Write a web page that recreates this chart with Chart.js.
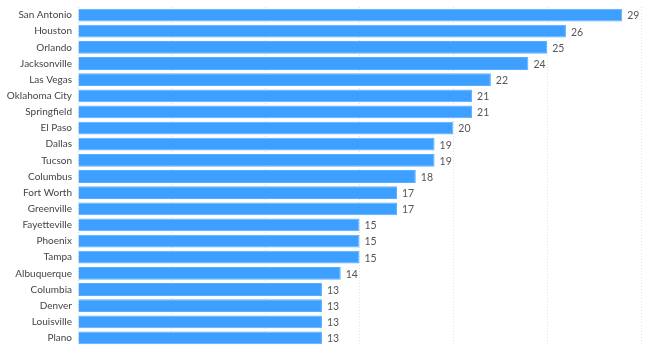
<!DOCTYPE html>
<html>
<head>
<meta charset="utf-8">
<script src="https://cdn.jsdelivr.net/npm/chart.js@4"></script>
<style>
    html, body { margin: 0; padding: 0; background: #fff; }
    #grafico { width: 650px; height: 353px; }
</style>
</head>
<body>
<div id="grafico"><canvas id="canvasCidades"></canvas></div>
<script>
var cidades = ["San Antonio", "Houston", "Orlando", "Jacksonville", "Las Vegas", "Oklahoma City",
    "Springfield", "El Paso", "Dallas", "Tucson", "Columbus", "Fort Worth", "Greenville",
    "Fayetteville", "Phoenix", "Tampa", "Albuquerque", "Columbia", "Denver", "Louisville", "Plano"];
var totais = [29, 26, 25, 24, 22, 21, 21, 20, 19, 19, 18, 17, 17, 15, 15, 15, 14, 13, 13, 13, 13];
var eixoMin = 0;
var eixoMax = 30;
var eixoPasso = 5;

var fonte = "Lato, 'Noto Sans', sans-serif";

// rótulos com o valor no fim de cada barra
var rotulosValor = {
    id: "rotulosValor",
    afterDatasetsDraw: function (chart) {
        var ctx = chart.ctx;
        var meta = chart.getDatasetMeta(0);
        ctx.save();
        ctx.font = "10.5px " + fonte;
        ctx.fillStyle = "#555";
        ctx.textBaseline = "middle";
        ctx.textAlign = "left";
        for (var i = 0; i < meta.data.length; i++) {
            var barra = meta.data[i];
            ctx.fillText(totais[i], barra.x + 5, barra.y + 1);
        }
        ctx.restore();
    }
};

var config = {
    type: "bar",
    data: {
        labels: cidades,
        datasets: [{
            data: totais,
            backgroundColor: "#3d9fff",
            borderColor: "#5aaeff",
            borderWidth: 1,
            barPercentage: 0.79,
            categoryPercentage: 1
        }]
    },
    options: {
        indexAxis: "y",
        responsive: true,
        maintainAspectRatio: false,
        animation: false,
        layout: { padding: { top: 7, bottom: 7, left: 0, right: 9 } },
        plugins: {
            legend: { display: false },
            tooltip: { enabled: false }
        },
        scales: {
            x: {
                min: eixoMin,
                max: eixoMax,
                ticks: { display: false, stepSize: eixoPasso },
                grid: { color: "#e2e2e2", drawTicks: false, lineWidth: 1 },
                border: { display: false, dash: [1, 2] }
            },
            y: {
                afterFit: function (escala) {
                    escala.width = 78;
                    escala.paddingTop = 0;
                    escala.paddingBottom = 0;
                },
                ticks: { color: "#444", font: { family: fonte, size: 10 }, padding: 6, autoSkip: false },
                grid: { display: false, drawTicks: false },
                border: { display: false }
            }
        }
    },
    plugins: [rotulosValor]
};

new Chart(document.getElementById("canvasCidades"), config);
</script>
</body>
</html>
